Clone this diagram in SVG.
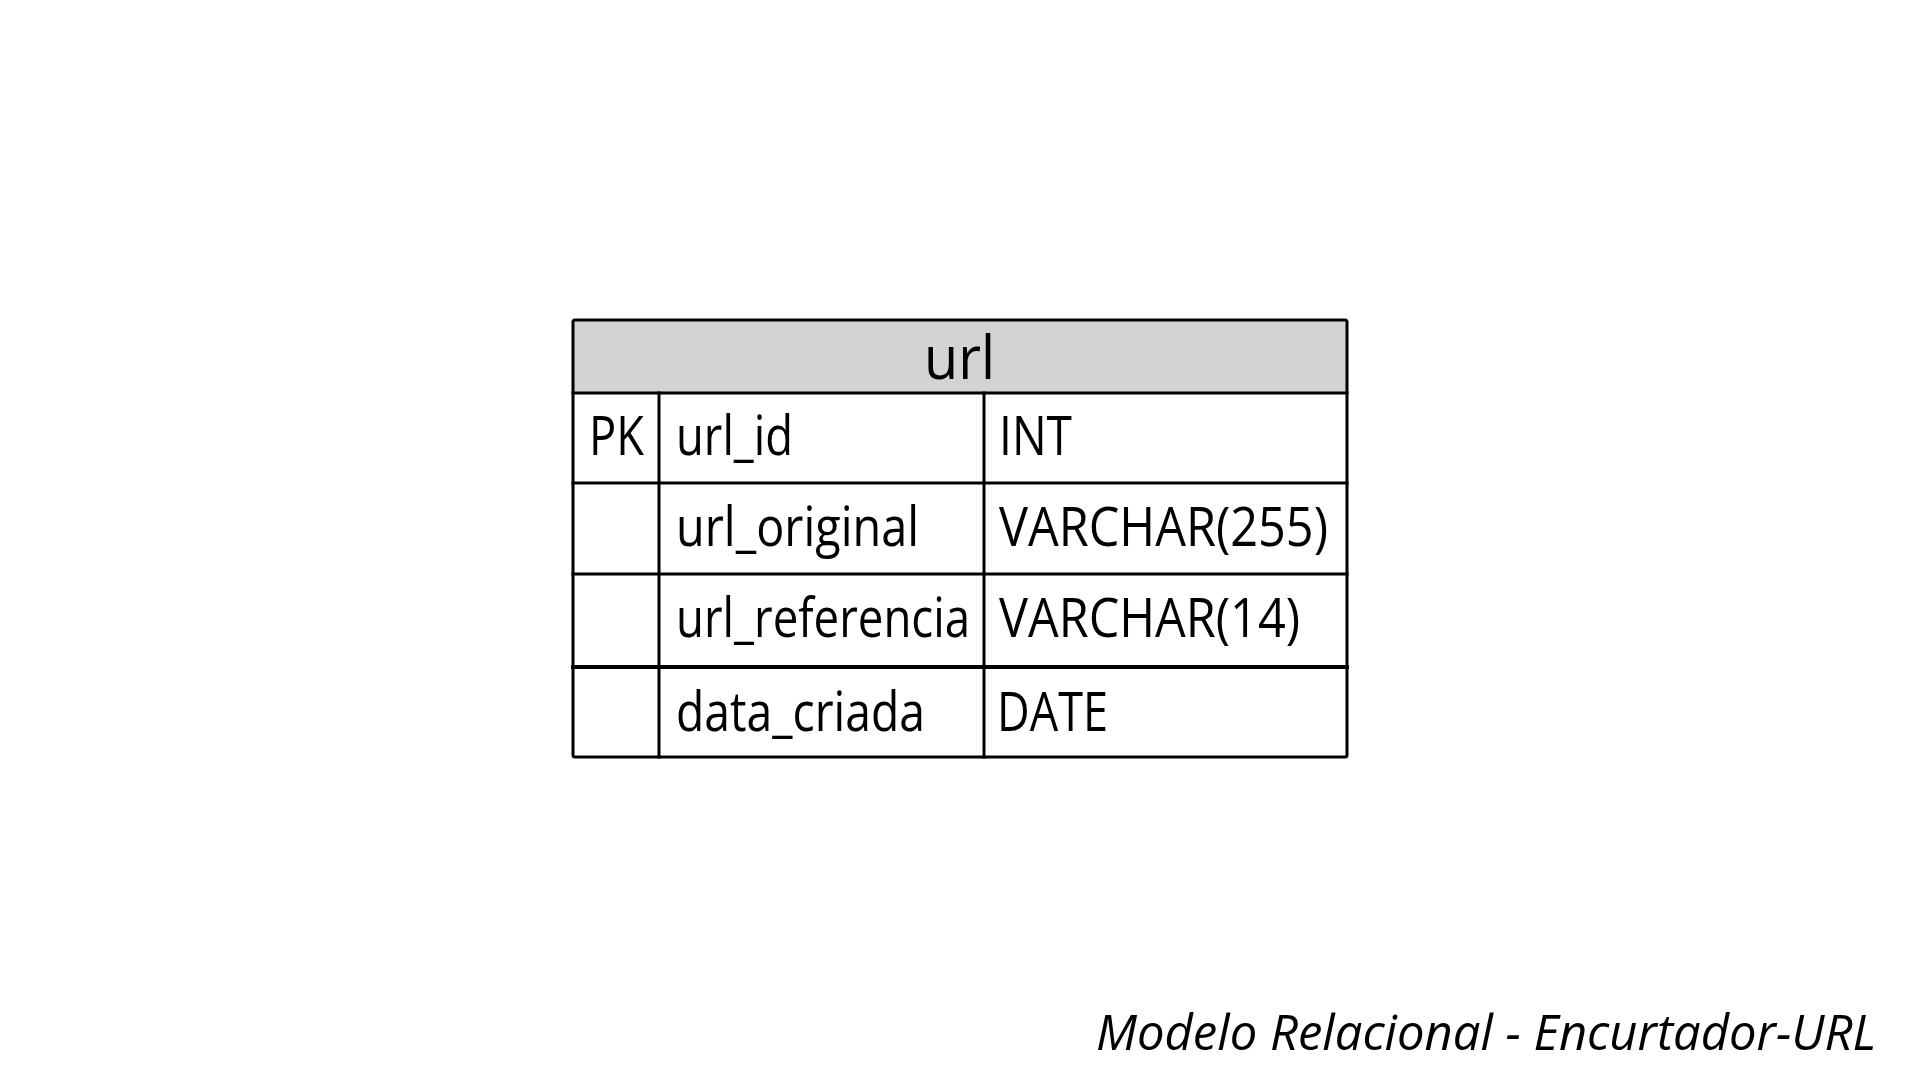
<svg xmlns="http://www.w3.org/2000/svg" width="1920" height="1080" viewBox="0 0 1920 1080">
<style>
.ln{stroke:#000;stroke-width:3;fill:none;stroke-linecap:square}
.t{font-family:"Open Sans","Noto Sans","Liberation Sans",sans-serif;font-size:54px;fill:#000}
.h{font-family:"Open Sans","Noto Sans","Liberation Sans",sans-serif;font-size:60px;fill:#000}
.cap{font-family:"Open Sans","Noto Sans","Liberation Sans",sans-serif;font-size:50px;font-style:italic;fill:#000}
</style>
<rect width="1920" height="1080" fill="#fff"/>
<g id="table-url">
<rect x="573" y="320" width="774" height="73" fill="#d3d3d3"/>
<rect x="573" y="393" width="774" height="364" fill="#fff"/>
<text class="h" x="924" y="379" textLength="71" lengthAdjust="spacingAndGlyphs">url</text>
<g id="row-url_id">
<text class="t" x="589" y="455" textLength="55" lengthAdjust="spacingAndGlyphs">PK</text>
<text class="t" x="676" y="455" textLength="117" lengthAdjust="spacingAndGlyphs">url_id</text>
<text class="t" x="999" y="455" textLength="73" lengthAdjust="spacingAndGlyphs">INT</text>
</g>
<g id="row-url_original">
<text class="t" x="676" y="546" textLength="243" lengthAdjust="spacingAndGlyphs">url_original</text>
<text class="t" x="999" y="546" textLength="329" lengthAdjust="spacingAndGlyphs">VARCHAR(255)</text>
</g>
<g id="row-url_referencia">
<text class="t" x="676" y="637" textLength="294" lengthAdjust="spacingAndGlyphs">url_referencia</text>
<text class="t" x="999" y="637" textLength="301" lengthAdjust="spacingAndGlyphs">VARCHAR(14)</text>
</g>
<g id="row-data_criada">
<text class="t" x="676" y="731" textLength="249" lengthAdjust="spacingAndGlyphs">data_criada</text>
<text class="t" x="997" y="731" textLength="111" lengthAdjust="spacingAndGlyphs">DATE</text>
</g>
<g id="grid">
<rect class="ln" x="573" y="320" width="774" height="437" rx="2"/>
<line class="ln" x1="573" y1="393" x2="1347" y2="393"/>
<line class="ln" x1="573" y1="483" x2="1347" y2="483"/>
<line class="ln" x1="573" y1="574" x2="1347" y2="574"/>
<line class="ln" x1="573" y1="667" x2="1347" y2="667" style="stroke-width:4"/>
<line class="ln" x1="659" y1="393" x2="659" y2="757"/>
<line class="ln" x1="984" y1="393" x2="984" y2="757"/>
</g>
</g>
<g id="connectors"/>
<g id="caption">
<text class="cap" x="1096" y="1050" textLength="780" lengthAdjust="spacingAndGlyphs">Modelo Relacional - Encurtador-URL</text>
</g>
</svg>
